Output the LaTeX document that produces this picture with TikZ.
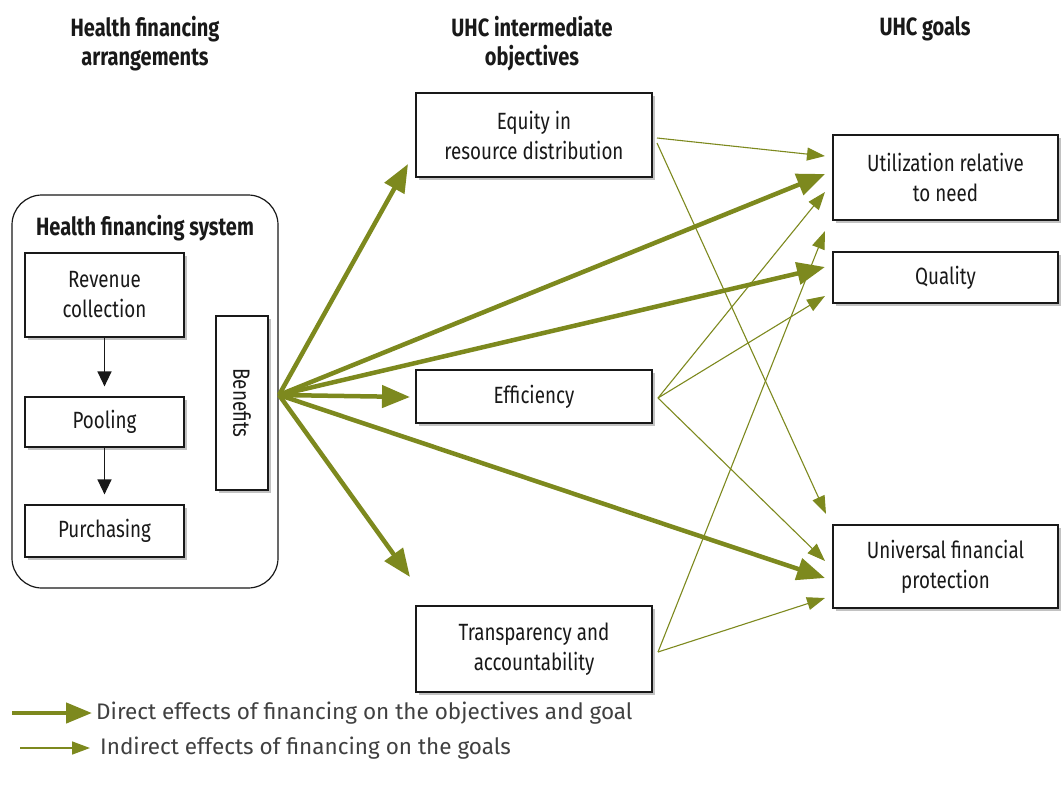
\documentclass[tikz,border=0pt]{standalone}
\usepackage{fontspec}
\setmainfont[FakeStretch=0.8]{Fira Sans}
\newfontfamily\legendfont{Fira Sans}
\usetikzlibrary{arrows.meta,shadows}
\definecolor{olivegreen}{RGB}{125,137,30}
\definecolor{txt}{RGB}{25,25,25}
\tikzset{
  boxnode/.style={draw=black!90, line width=1.2pt, fill=white, align=center, inner sep=2pt,
    text=txt, font=\fontsize{23.5}{30}\selectfont,
    drop shadow={shadow xshift=3pt, shadow yshift=-3pt, fill=black!40, opacity=0.6}},
  headnode/.style={align=center, text=txt, font=\fontsize{25}{29}\selectfont\bfseries},
  direct/.style={draw=olivegreen, line width=4.5pt, -{Triangle[length=28pt,width=22pt]}, color=olivegreen},
  indirect/.style={draw=olivegreen, line width=1.1pt, -{Triangle[length=18pt,width=13pt]}, color=olivegreen},
  flowarrow/.style={draw=black!90, line width=1.4pt, -{Triangle[length=15pt,width=14pt]}, shorten >=10pt}
}
\begin{document}
\begin{tikzpicture}[x=1pt,y=-1pt]
\useasboundingbox (0,0) rectangle (1062,790);
% headers
\node[headnode] (h1) at (145,44) {Health financing\\arrangements};
\node[headnode] (h2) at (532,44) {UHC intermediate\\objectives};
\node[headnode] (h3) at (925,29) {UHC goals};
% left system
\draw[black!90, line width=1.2pt, rounded corners=30pt] (12,195) rectangle (278,588);
\node[headnode] (sys) at (145,228) {Health financing system};
\node[boxnode, minimum width=159pt, minimum height=84pt] (rev) at (104.5,295) {Revenue\\collection};
\node[boxnode, minimum width=159pt, minimum height=50pt] (pool) at (104.5,422) {Pooling};
\node[boxnode, minimum width=159pt, minimum height=52pt] (purch) at (104.5,531) {Purchasing};
\node[boxnode, rotate=-90, minimum width=174pt, minimum height=52pt] (ben) at (242,403) {Benefits};
\draw[flowarrow] (rev) -- (pool);
\draw[flowarrow] (pool) -- (purch);
% middle
\node[boxnode, minimum width=236pt, minimum height=84pt] (equity) at (534,135) {Equity in\\resource distribution};
\node[boxnode, minimum width=236pt, minimum height=53pt] (eff) at (534,396.5) {Efficiency};
\node[boxnode, minimum width=236pt, minimum height=86pt] (trans) at (534,649) {Transparency and\\accountability};
% right
\node[boxnode, minimum width=225pt, minimum height=85pt] (util) at (945.5,177.5) {Utilization relative\\to need};
\node[boxnode, minimum width=225pt, minimum height=51pt] (qual) at (945.5,277.5) {Quality};
\node[boxnode, minimum width=225pt, minimum height=83pt] (ufp) at (945.5,566.5) {Universal financial\\protection};
% source and tip coordinates
\coordinate (src) at (279,395);
\coordinate (tEq) at (408,164);
\coordinate (tUtA) at (825,174);
\coordinate (tQuA) at (825,267);
\coordinate (tEf) at (410,397);
\coordinate (tUfA) at (825,578);
\coordinate (tTr) at (410,577);
\coordinate (sEq1) at (657,138);
\coordinate (sEq2) at (657,143);
\coordinate (sEf) at (658,398);
\coordinate (sTr) at (658,652);
\coordinate (tUtB) at (825,156);
\coordinate (tUfB) at (826,514);
\coordinate (tUtC) at (825,192);
\coordinate (tQuB) at (825,296);
\coordinate (tUfC) at (825,561);
\coordinate (tGap) at (825,231);
\coordinate (tUfD) at (825,598);
% thin arrows
\draw[indirect] (sEq1) -- (tUtB);
\draw[indirect] (sEq2) -- (tUfB);
\draw[indirect] (sEf) -- (tUtC);
\draw[indirect] (sEf) -- (tQuB);
\draw[indirect] (sEf) -- (tUfC);
\draw[indirect] (sTr) -- (tGap);
\draw[indirect] (sTr) -- (tUfD);
% thick arrows
\draw[direct] (src) -- (tEq);
\draw[direct] (src) -- (tUtA);
\draw[direct] (src) -- (tQuA);
\draw[direct] (src) -- (tEf);
\draw[direct] (src) -- (tUfA);
\draw[direct] (src) -- (tTr);
% legend
\coordinate (l1a) at (12,713);
\coordinate (l1b) at (92,713);
\coordinate (l2a) at (20,748);
\coordinate (l2b) at (90,748);
\draw[direct, -{Triangle[length=26pt,width=20pt]}] (l1a) -- (l1b);
\draw[indirect, line width=1.6pt] (l2a) -- (l2b);
\node[anchor=west, inner sep=0pt, text=black!75, font=\legendfont\fontsize{22.5}{26}\selectfont] (leg1) at (96,713) {Direct effects of financing on the objectives and goal};
\node[anchor=west, inner sep=0pt, text=black!75, font=\legendfont\fontsize{22.5}{26}\selectfont] (leg2) at (100,748) {Indirect effects of financing on the goals};
\end{tikzpicture}
\end{document}
